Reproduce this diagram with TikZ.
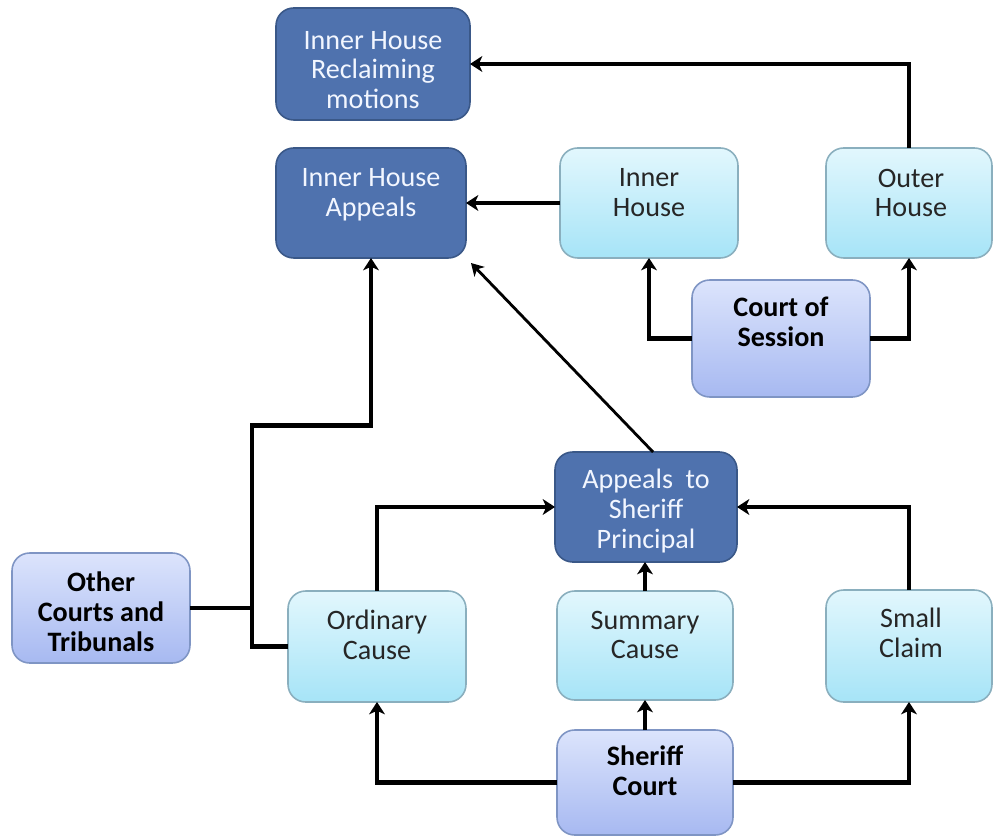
\documentclass[tikz,border=0pt]{standalone}
\usepackage{fontspec}
\setmainfont{Carlito}
\usetikzlibrary{arrows.meta,calc}
\definecolor{dkfill}{HTML}{4F72AE}
\definecolor{dkline}{HTML}{3A5888}
\definecolor{ltop}{HTML}{E2F7FD}
\definecolor{lbot}{HTML}{A6E4F7}
\definecolor{lline}{HTML}{8AAFBE}
\definecolor{vtop}{HTML}{DCE4FC}
\definecolor{vbot}{HTML}{A7B9F1}
\definecolor{vline}{HTML}{7F95C4}
\definecolor{dktext}{HTML}{F2F6FF}
\definecolor{lttext}{HTML}{262626}
\tikzset{
  box/.style={rounded corners=10pt, inner sep=0pt, outer sep=0pt, line width=0.9pt},
  darkbox/.style={box, fill=dkfill, draw=dkline},
  lightbox/.style={box, top color=ltop, bottom color=lbot, draw=lline},
  lavbox/.style={box, top color=vtop, bottom color=vbot, draw=vline},
  txt/.style={align=center, font=\fontsize{16}{17}\selectfont},
  dtxt/.style={txt, text=dktext},
  ltxt/.style={txt, text=lttext},
  btxt/.style={txt, text=black, font=\fontsize{16}{17}\selectfont\bfseries},
  conn/.style={line width=2.5pt, -{Stealth[length=7pt,width=9pt,inset=2pt]}},
  thinconn/.style={line width=1.6pt, -{Stealth[length=7pt,width=8pt,inset=2pt]}},
  plain/.style={line width=2pt}
}
\begin{document}
\begin{tikzpicture}[x=0.02cm,y=-0.02cm]
\useasboundingbox (0,0) rectangle (993,837);

% boxes
\node[darkbox, minimum width=3.88cm, minimum height=2.24cm] (ihr) at (373,64) {};
\node[darkbox, minimum width=3.80cm, minimum height=2.20cm] (iha) at (371,203) {};
\node[lightbox, minimum width=3.56cm, minimum height=2.20cm] (ih) at (649,203) {};
\node[lightbox, minimum width=3.32cm, minimum height=2.20cm] (oh) at (909,203) {};
\node[lavbox, minimum width=3.56cm, minimum height=2.34cm] (cos) at (781,338.5) {};
\node[darkbox, minimum width=3.64cm, minimum height=2.20cm] (asp) at (646,507) {};
\node[lightbox, minimum width=3.52cm, minimum height=2.18cm] (sc) at (645,645.5) {};
\node[lightbox, minimum width=3.32cm, minimum height=2.24cm] (smc) at (909,646) {};
\node[lavbox, minimum width=3.52cm, minimum height=2.10cm] (shc) at (645,782.5) {};
\node[lightbox, minimum width=3.56cm, minimum height=2.22cm] (oc) at (377,646.5) {};
\node[lavbox, minimum width=3.56cm, minimum height=2.20cm] (oct) at (101,608) {};

% texts
\node[dtxt] (tihr) at (373,70) {Inner House\\Reclaiming\\motions};
\node[dtxt] (tiha) at (371,195) {Inner House\\Appeals};
\node[ltxt] (tih) at (649,193) {Inner\\House};
\node[ltxt] (toh) at (911,193) {Outer\\House};
\node[btxt] (tcos) at (781,322) {Court of\\Session};
\node[dtxt] (tasp) at (646,511) {Appeals~ to\\Sheriff\\Principal};
\node[ltxt] (tsc) at (645,635) {Summary\\Cause};
\node[ltxt] (tsmc) at (911,633) {Small\\Claim};
\node[btxt] (tshc) at (645,771) {Sheriff\\Court};
\node[ltxt] (toc) at (377,635) {Ordinary\\Cause};
\node[btxt] (toct) at (101,612) {Other\\Courts and\\Tribunals};

% connectors
\draw[conn] (oh.north) |- (ihr.east);
\draw[conn] (ih.west) -- (iha.east);
\draw[conn] (cos.west) -| (ih.south);
\draw[conn] (cos.east) -| (oh.south);
\draw[thinconn] ([xshift=4]asp.north) -- ($(iha.south east)+(5,5)$);
\coordinate (jtop) at (252,425.5);
\coordinate (jmid) at (252,608);
\draw[conn] (oc.west) -| (jtop) -| (iha.south);
\draw[plain] (oct.east) -- (jmid);
\draw[conn] (oc.north) |- (asp.west);
\draw[conn] (smc.north) |- (asp.east);
\draw[conn] (sc.north) -- (sc.north |- asp.south);
\draw[conn] (shc.north) -- (sc.south);
\draw[conn] (shc.west) -| (oc.south);
\draw[conn] (shc.east) -| (smc.south);
\end{tikzpicture}
\end{document}
